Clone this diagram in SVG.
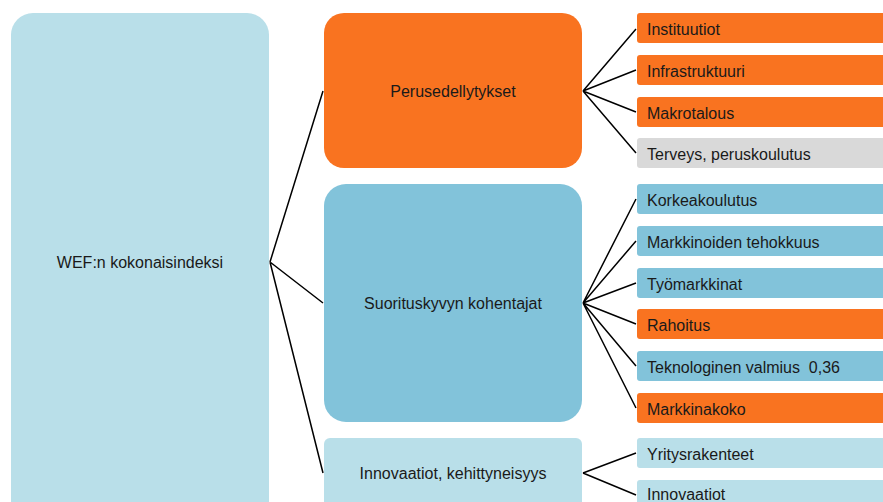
<svg xmlns="http://www.w3.org/2000/svg" width="883" height="502" viewBox="0 0 883 502">
<style>
text{font-family:"Liberation Sans",Arial,sans-serif;font-size:16px;fill:#1a1a1a}
.c{text-anchor:middle}
.or{fill:#F97320}
.lb{fill:#B9DFE9}
.mb{fill:#82C3DA}
.gr{fill:#D9D9D9}
.ln{stroke:#000;stroke-width:1.5;fill:none}
</style>
<rect width="883" height="502" fill="#fff"/>
<g id="root"><rect class="lb" x="11" y="13" width="258" height="520" rx="22"/><text class="c" x="140" y="268">WEF:n kokonaisindeksi</text></g>
<g id="perus"><rect class="or" x="324" y="13" width="258" height="155" rx="20"/><text class="c" x="453" y="97">Perusedellytykset</text></g>
<g id="suor"><rect class="mb" x="324" y="184" width="258" height="238" rx="22"/><text class="c" x="453" y="309">Suorituskyvyn kohentajat</text></g>
<g id="innov"><rect class="lb" x="324" y="438" width="258" height="100" rx="6"/><text class="c" x="453" y="479">Innovaatiot, kehittyneisyys</text></g>
<g id="instituutiot"><rect class="or" x="637" y="13" width="260" height="30" rx="3"/><text x="647" y="35">Instituutiot</text></g>
<g id="infra"><rect class="or" x="637" y="55" width="260" height="30" rx="3"/><text x="647" y="77">Infrastruktuuri</text></g>
<g id="makro"><rect class="or" x="637" y="97" width="260" height="30" rx="3"/><text x="647" y="119">Makrotalous</text></g>
<g id="terveys"><rect class="gr" x="637" y="138" width="260" height="30" rx="3"/><text x="647" y="160">Terveys, peruskoulutus</text></g>
<g id="korkea"><rect class="mb" x="637" y="184" width="260" height="30" rx="3"/><text x="647" y="206">Korkeakoulutus</text></g>
<g id="markkinoiden"><rect class="mb" x="637" y="226" width="260" height="30" rx="3"/><text x="647" y="248">Markkinoiden tehokkuus</text></g>
<g id="tyo"><rect class="mb" x="637" y="268" width="260" height="30" rx="3"/><text x="647" y="290">Työmarkkinat</text></g>
<g id="rahoitus"><rect class="or" x="637" y="309" width="260" height="30" rx="3"/><text x="647" y="331">Rahoitus</text></g>
<g id="tekno"><rect class="mb" x="637" y="351" width="260" height="30" rx="3"/><text x="647" y="373" xml:space="preserve">Teknologinen valmius  0,36</text></g>
<g id="markkinakoko"><rect class="or" x="637" y="393" width="260" height="30" rx="3"/><text x="647" y="415">Markkinakoko</text></g>
<g id="yritys"><rect class="lb" x="637" y="438" width="260" height="30" rx="3"/><text x="647" y="460">Yritysrakenteet</text></g>
<g id="innovaatiot"><rect class="lb" x="637" y="480" width="260" height="30" rx="3"/><text x="647" y="500">Innovaatiot</text></g>
<g id="connectors" class="ln">
<path d="M270 262L323 91M270 262L323 303M270 262L323 473"/>
<path d="M583 91L636 29M583 91L636 70M583 91L636 112M583 91L636 153"/>
<path d="M583 303L636 199M583 303L636 241M583 303L636 283M583 303L636 324M583 303L636 366M583 303L636 408"/>
<path d="M583 473L636 453M583 473L636 495"/>
</g>
</svg>
